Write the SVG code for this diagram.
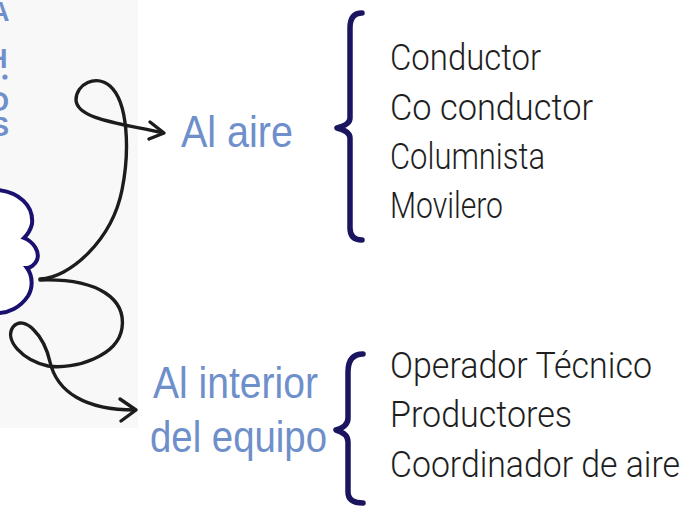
<svg xmlns="http://www.w3.org/2000/svg" width="692" height="509" viewBox="0 0 692 509">
<defs>
<style>
.blue{font-family:"Liberation Sans",Arial,sans-serif;fill:#6f8fcb;}
.item{font-family:Roboto,"Liberation Sans",sans-serif;font-weight:300;font-size:36px;fill:#1e1e1e;}
.conn{fill:none;stroke:#1c1c1c;stroke-width:3.4;stroke-linecap:round;stroke-linejoin:round;}
.brace{fill:none;stroke:#1b1560;stroke-width:5.5;stroke-linecap:round;stroke-linejoin:round;}
</style>
</defs>
<rect width="692" height="509" fill="#ffffff"/>
<rect x="0" y="0" width="138" height="428" fill="#f8f8f8"/>
<g id="edge-text" class="blue" font-size="27" font-weight="bold">
<text x="-10" y="21">A</text>
<text x="-12" y="68">H</text>
<text x="-12" y="111">O</text>
<text x="-9" y="136">S</text>
<circle cx="5" cy="77" r="2.6" fill="#6f8fcb"/>
</g>
<g id="cloud">
<path d="M-2,190 C18,192 34,205 32,224 C30,232 26,236 24,238 C34,242 40,252 37,260 C35,265 30,268 27,268 C33,276 33,288 28,296 C20,308 8,313 -2,313" fill="#ffffff" stroke="#1a1070" stroke-width="4"/>
</g>
<g id="connectors">
<path class="conn" d="M40,279 C70,278 112,240 122,190 C130,150 128,102 110,86 C96,74 76,84 76,100 C77,120 125,124 163,133"/>
<path class="conn" d="M150,122 L164,133 L149,139"/>
<path class="conn" d="M40,280 C100,278 126,300 122,328 C118,356 75,370 48,366 C22,360 4,340 13,327 C24,314 44,335 50,362 C57,392 85,410 135,410"/>
<path class="conn" d="M120,399 L136,410 L121,421"/>
</g>
<g id="node-al-aire">
<text class="blue" x="181" y="147" font-size="44" textLength="112" lengthAdjust="spacingAndGlyphs">Al aire</text>
</g>
<g id="node-al-interior">
<text class="blue" x="153" y="398" font-size="44" textLength="165" lengthAdjust="spacingAndGlyphs">Al interior</text>
<text class="blue" x="150" y="452" font-size="44" textLength="177" lengthAdjust="spacingAndGlyphs">del equipo</text>
</g>
<g id="brace-aire">
<path class="brace" d="M362,13 C354,13 350,18 350,28 L350,118 C350,123 345,126 337,128 C345,130 350,133 350,138 L350,228 C350,236 354,240 362,240"/>
</g>
<g id="brace-interior">
<path class="brace" d="M363,354 C353,354 348,360 348,372 L348,418 C348,424 343,428 336,430 C343,432 348,436 348,442 L348,492 C348,500 354,503 363,503"/>
</g>
<g id="list-aire">
<text class="item" x="390" y="70" textLength="151" lengthAdjust="spacingAndGlyphs">Conductor</text>
<text class="item" x="390" y="120" textLength="203" lengthAdjust="spacingAndGlyphs">Co conductor</text>
<text class="item" x="390" y="169" textLength="155" lengthAdjust="spacingAndGlyphs">Columnista</text>
<text class="item" x="390" y="218" textLength="113" lengthAdjust="spacingAndGlyphs">Movilero</text>
</g>
<g id="list-interior">
<text class="item" x="390" y="378" textLength="262" lengthAdjust="spacingAndGlyphs">Operador Técnico</text>
<text class="item" x="390" y="427" textLength="182" lengthAdjust="spacingAndGlyphs">Productores</text>
<text class="item" x="390" y="477" textLength="290" lengthAdjust="spacingAndGlyphs">Coordinador de aire</text>
</g>
</svg>
